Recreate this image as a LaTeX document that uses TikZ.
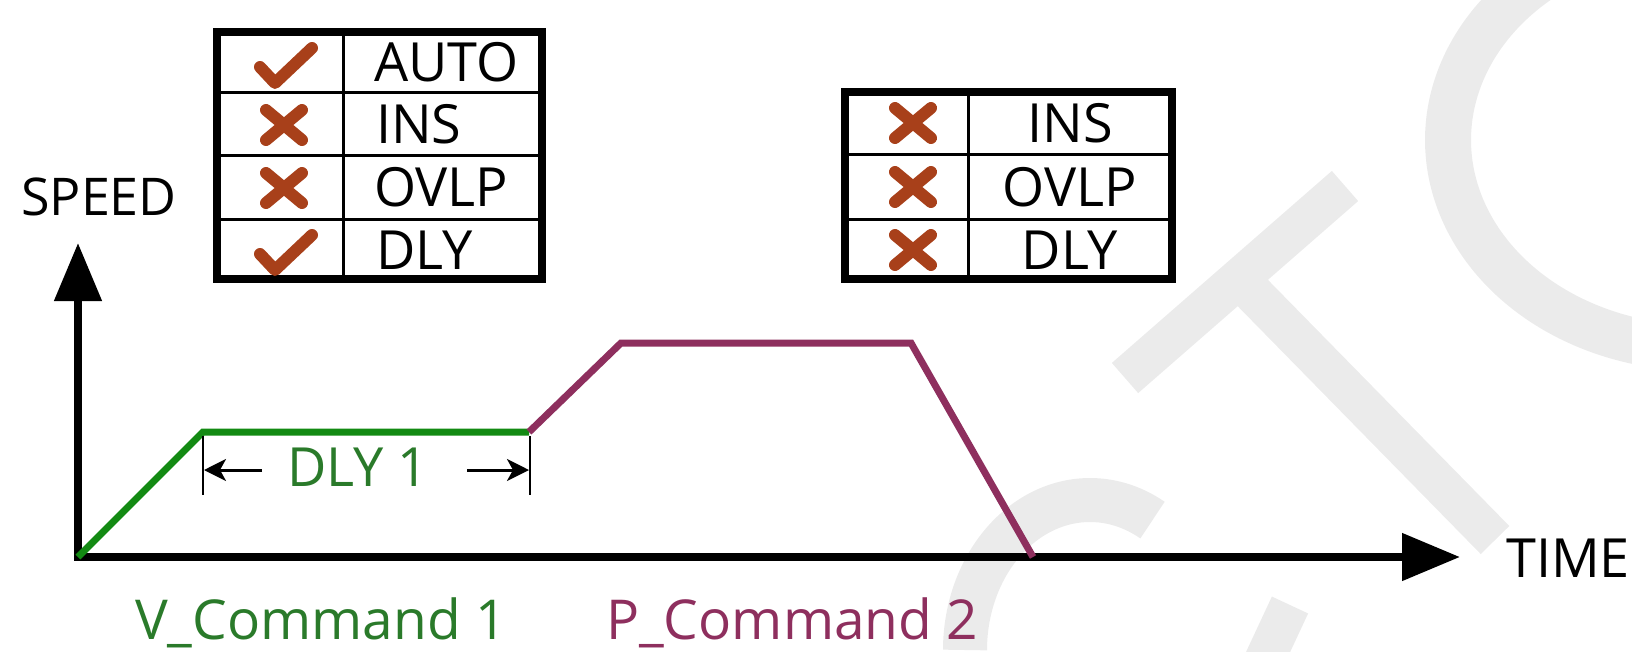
\documentclass[tikz,border=0pt]{standalone}
\usepackage{fontspec}
\setmainfont{Open Sans}
\usetikzlibrary{arrows.meta}
\definecolor{vgreen}{HTML}{138A13}
\definecolor{vgreentext}{HTML}{2A7A2A}
\definecolor{pplum}{HTML}{8E2F5E}
\definecolor{markc}{HTML}{A8401A}
\definecolor{wm}{HTML}{EBEBEB}
\begin{document}
\begin{tikzpicture}[x=1pt,y=-1pt,
  lbl/.style={inner sep=0pt, font=\fontsize{54}{62}\selectfont},
  cmdlbl/.style={inner sep=0pt, font=\fontsize{55}{62}\selectfont},
  celltxt/.style={inner sep=0pt, font=\fontsize{54}{62}\selectfont},
  axisline/.style={line width=8pt, line join=miter,
     {Triangle[length=58pt,width=46pt]}-{Triangle[length=58pt,width=46pt]}},
  vline/.style={vgreen, line width=7pt, line join=miter},
  pline/.style={pplum, line width=7pt, line join=miter},
  tickline/.style={line width=2.5pt},
  dimarrow/.style={line width=3pt, -{Stealth[length=22pt,width=22pt,inset=6pt]}},
  tblouter/.style={line width=8pt},
  tblinner/.style={line width=3pt},
  chk/.style={markc, line width=12pt, line cap=round, line join=round},
  crs/.style={markc, line width=12pt, line cap=round},
  wmark/.style={wm, line width=46pt}]
\useasboundingbox (0,0) rectangle (1632,651);
% watermark
\begin{scope}
\clip (0,0) rectangle (1632,651);
\draw[wmark] plot[domain=0:360, samples=90, smooth] ({1700+252*cos(\x)},{140+208*sin(\x)});
\draw[wm, line width=40pt] (1125,378) -- (1345,186);
\draw[wm, line width=40pt] (1242,282) -- (1495,540);
\draw[wm, line width=44pt] plot[domain=180:300, samples=40, smooth] ({1090+125*cos(\x)},{650+150*sin(\x)});
\draw[wm, line width=40pt] (1255,680) -- (1290,605);
\end{scope}

% axes
\coordinate (O) at (78,557);
\coordinate (Ytop) at (78,243);
\coordinate (Xend) at (1460,557);
\draw[axisline] (Ytop) -- (O) -- (Xend);
\node[lbl, font=\fontsize{52}{60}\selectfont, anchor=base west] (speed) at (21,215) {SPEED};
\node[lbl, anchor=base west] (time) at (1506,577) {TIME};

% profiles
\coordinate (G1) at (203,432);
\coordinate (G2) at (529,432);
\coordinate (M1) at (621,343);
\coordinate (M2) at (911,343);
\coordinate (M3) at (1033,557);
\draw[vline] (O) -- (G1) -- (G2);
\draw[pline] (G2) -- (M1) -- (M2) -- (M3);

% DLY 1 dimension
\coordinate (T1a) at (203,436);
\coordinate (T1b) at (203,495);
\coordinate (T2a) at (530,436);
\coordinate (T2b) at (530,495);
\draw[tickline] (T1a) -- (T1b);
\draw[tickline] (T2a) -- (T2b);
\coordinate (L1) at (262,470);
\coordinate (L2) at (204,470);
\coordinate (R1) at (467,470);
\coordinate (R2) at (529,470);
\draw[dimarrow] (L1) -- (L2);
\draw[dimarrow] (R1) -- (R2);
\node[lbl, text=vgreentext] (dly) at (358,467) {DLY 1};

% command labels
\node[cmdlbl, anchor=base west, text=vgreentext] (vcmd) at (135,639) {V\_Command 1};
\node[cmdlbl, anchor=base west, text=pplum] (pcmd) at (606,639) {P\_Command 2};

% table 1
\draw[tblouter] (217,32) rectangle (542,279);
\draw[tblinner] (343,32) -- (343,279);
\draw[tblinner] (217,92) -- (542,92);
\draw[tblinner] (217,155) -- (542,155);
\draw[tblinner] (217,219) -- (542,219);
\node[celltxt, anchor=west] (t1a) at (374,62) {AUTO};
\node[celltxt, anchor=west] (t1b) at (376,124) {INS};
\node[celltxt, anchor=west] (t1c) at (374,187) {OVLP};
\node[celltxt, anchor=west] (t1d) at (376,250) {DLY};
\draw[chk] (260,67) -- (275,83) -- (312,48);
\draw[crs] (266,110) -- (302,140);
\draw[crs] (266,140) -- (302,110);
\draw[crs] (266,173) -- (302,203);
\draw[crs] (266,203) -- (302,173);
\draw[chk] (260,254) -- (275,270) -- (312,235);

% table 2
\draw[tblouter] (845,92) rectangle (1172,279);
\draw[tblinner] (968,92) -- (968,279);
\draw[tblinner] (845,154) -- (1172,154);
\draw[tblinner] (845,219) -- (1172,219);
\node[celltxt] (t2a) at (1070,123) {INS};
\node[celltxt] (t2b) at (1070,187) {OVLP};
\node[celltxt] (t2c) at (1070,250) {DLY};
\draw[crs] (895,108) -- (931,138);
\draw[crs] (895,138) -- (931,108);
\draw[crs] (895,172) -- (931,202);
\draw[crs] (895,202) -- (931,172);
\draw[crs] (895,235) -- (931,265);
\draw[crs] (895,265) -- (931,235);
\end{tikzpicture}
\end{document}
